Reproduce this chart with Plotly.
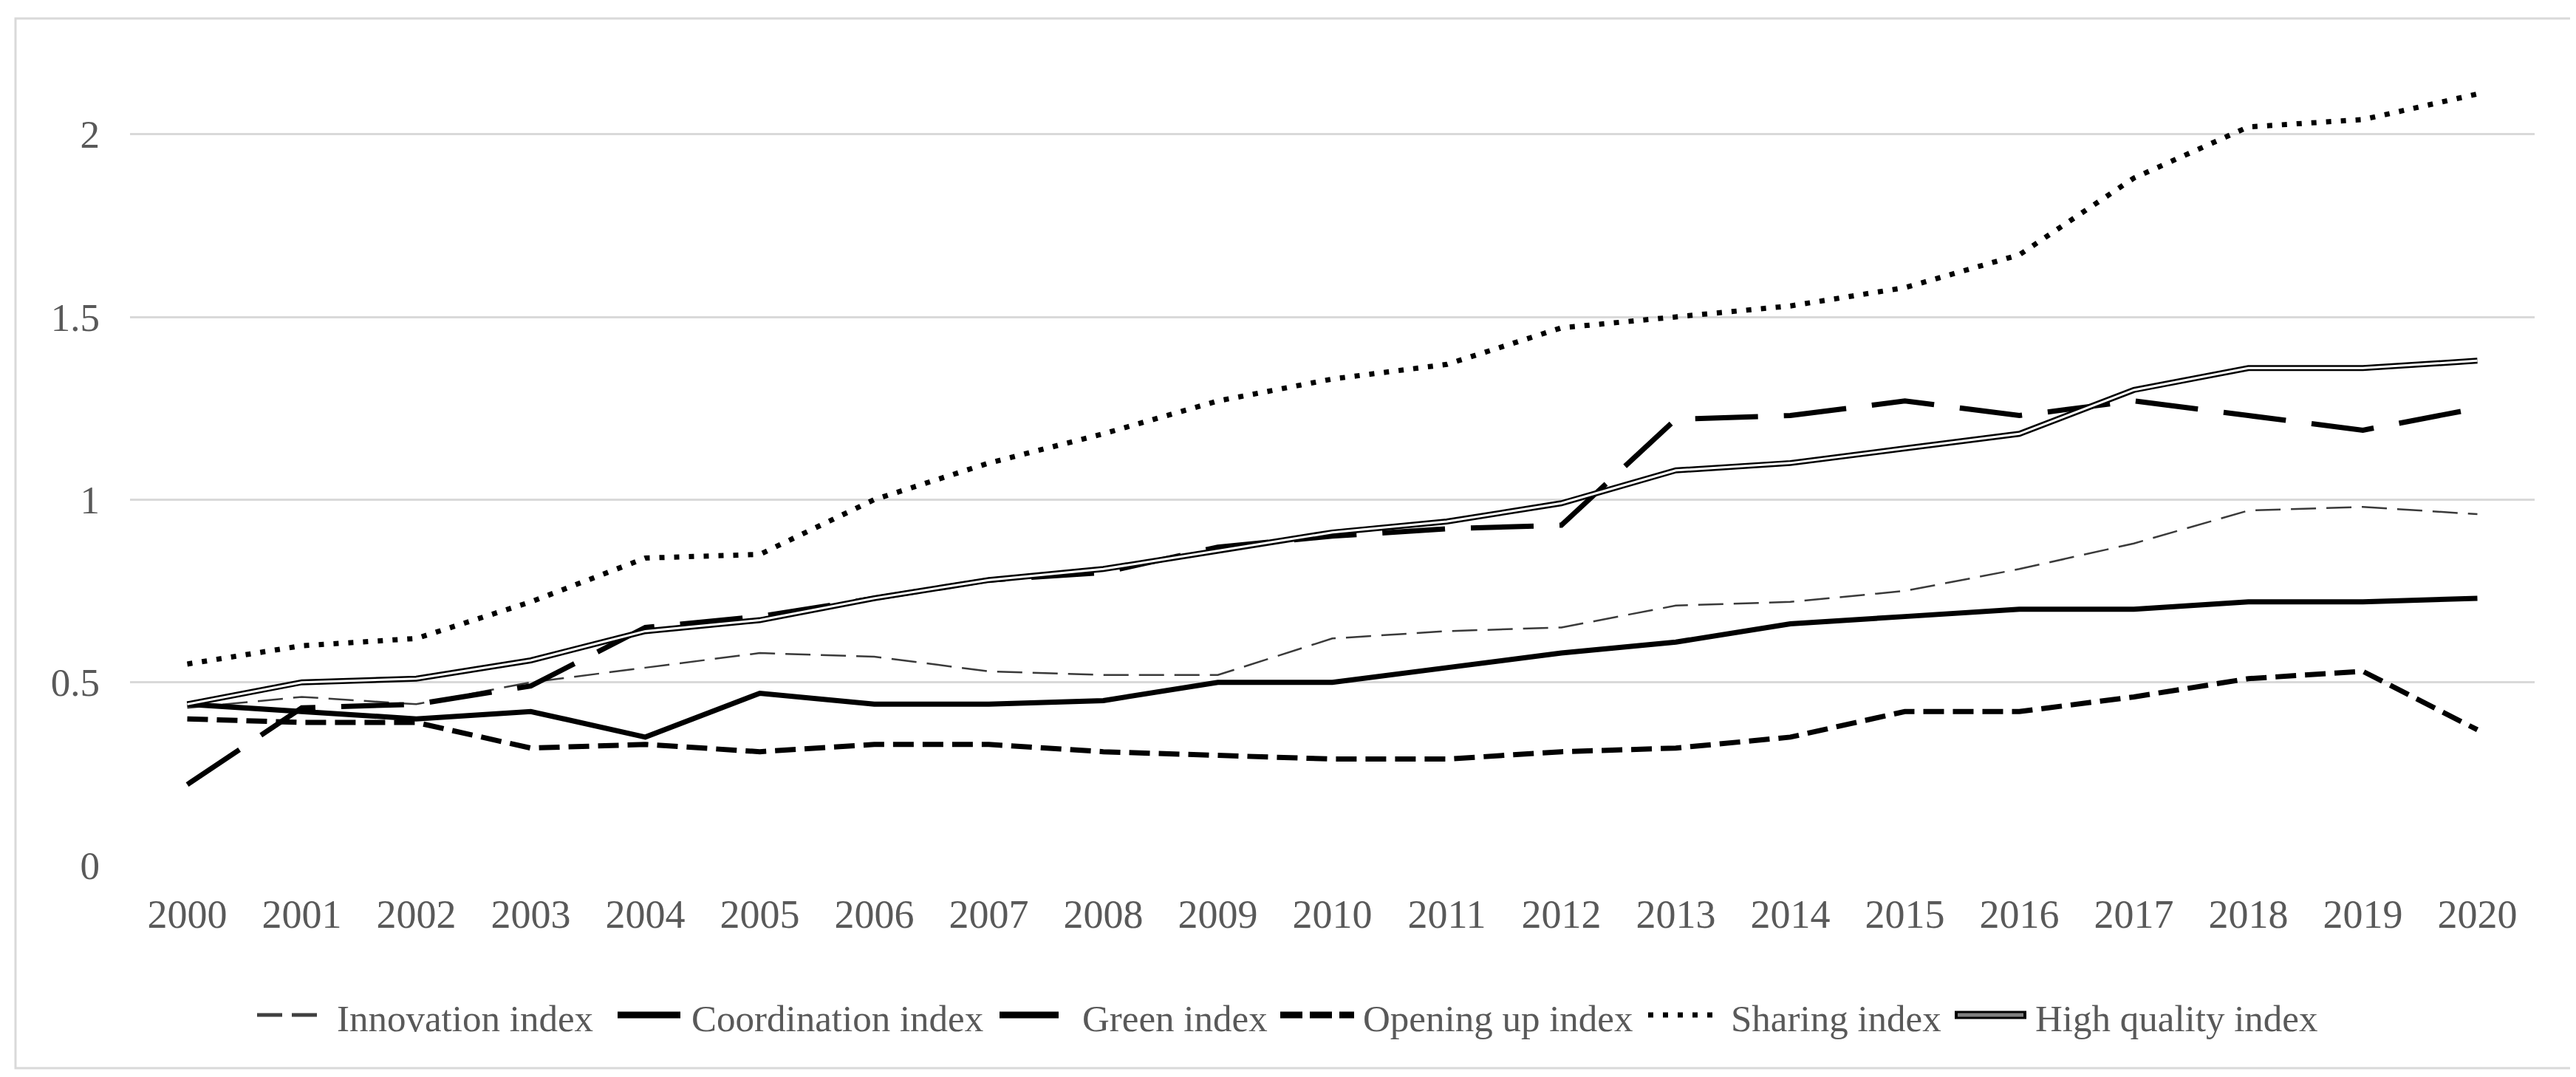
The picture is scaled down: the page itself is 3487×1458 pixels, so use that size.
import plotly.graph_objects as go

years = [str(y) for y in range(2000, 2021)]

innovation = [0.43, 0.46, 0.44, 0.50, 0.54, 0.58, 0.57, 0.53, 0.52, 0.52, 0.62,
              0.64, 0.65, 0.71, 0.72, 0.75, 0.81, 0.88, 0.97, 0.98, 0.96]
coordination = [0.44, 0.42, 0.40, 0.42, 0.35, 0.47, 0.44, 0.44, 0.45, 0.50, 0.50,
                0.54, 0.58, 0.61, 0.66, 0.68, 0.70, 0.70, 0.72, 0.72, 0.73]
green = [0.22, 0.43, 0.44, 0.49, 0.65, 0.68, 0.73, 0.78, 0.80, 0.87, 0.90,
         0.92, 0.93, 1.22, 1.23, 1.27, 1.23, 1.27, 1.23, 1.19, 1.25]
opening = [0.40, 0.39, 0.39, 0.32, 0.33, 0.31, 0.33, 0.33, 0.31, 0.30, 0.29,
           0.29, 0.31, 0.32, 0.35, 0.42, 0.42, 0.46, 0.51, 0.53, 0.37]
sharing = [0.55, 0.60, 0.62, 0.72, 0.84, 0.85, 1.00, 1.10, 1.18, 1.27, 1.33,
           1.37, 1.47, 1.50, 1.53, 1.58, 1.67, 1.88, 2.02, 2.04, 2.11]
high_quality = [0.44, 0.50, 0.51, 0.56, 0.64, 0.67, 0.73, 0.78, 0.81, 0.86, 0.91,
                0.94, 0.99, 1.08, 1.10, 1.14, 1.18, 1.30, 1.36, 1.36, 1.38]

y_ticks = [0, 0.5, 1, 1.5, 2]
y_tick_labels = ["0", "0.5", "1", "1.5", "2"]

W, H = 3487, 1458
ML, MR, MT, MB = 168, 64, 50, 295
PW = W - ML - MR
PH = H - MT - MB

def px_x(p):
    return (p - ML) / PW

def px_y(p):
    return 1 - (p - MT) / PH

FONT = "Liberation Serif"
TXT = "#595959"

fig = go.Figure()

fig.add_trace(go.Scatter(x=years, y=innovation, mode="lines", name="Innovation index",
                         line=dict(color="#3a3a3a", width=2.5, dash="34px,14px")))
fig.add_trace(go.Scatter(x=years, y=coordination, mode="lines", name="Coordination index",
                         line=dict(color="black", width=7)))
fig.add_trace(go.Scatter(x=years, y=green, mode="lines", name="Green index",
                         line=dict(color="black", width=7, dash="85px,35px")))
fig.add_trace(go.Scatter(x=years, y=opening, mode="lines", name="Opening up index",
                         line=dict(color="black", width=7, dash="28px,12px")))
fig.add_trace(go.Scatter(x=years, y=sharing, mode="lines", name="Sharing index",
                         line=dict(color="black", width=7, dash="7px,13px")))
fig.add_trace(go.Scatter(x=years, y=high_quality, mode="lines", name="High quality index",
                         line=dict(color="black", width=8)))
fig.add_trace(go.Scatter(x=years, y=high_quality, mode="lines", name="High quality index inner",
                         line=dict(color="white", width=3), showlegend=False))

shapes = []
annotations = []

# outer border
shapes.append(dict(type="rect", xref="paper", yref="paper",
                   x0=px_x(13), x1=px_x(3474), y0=px_y(17), y1=px_y(1438),
                   line=dict(color="#d9d9d9", width=3), fillcolor="rgba(0,0,0,0)", layer="below"))

# custom legend
LY = 1366
TY = 1371
legend_items = [
    ("Innovation index", 340, 422, 446, dict(color="#404040", width=5, dash="34px,13px"), None),
    ("Coordination index", 828, 913, 926, dict(color="black", width=9), None),
    ("Green index", 1345, 1425, 1455, dict(color="black", width=9), None),
    ("Opening up index", 1725, 1825, 1835, dict(color="black", width=9, dash="30px,10px"), None),
    ("Sharing index", 2223, 2318, 2333, dict(color="black", width=7, dash="7px,13px"), None),
    ("High quality index", 2638, 2735, 2745, dict(color="black", width=11), dict(color="#808080", width=5)),
]
for name, sx0, sx1, tx, ln, inner in legend_items:
    shapes.append(dict(type="line", xref="paper", yref="paper",
                       x0=px_x(sx0), x1=px_x(sx1), y0=px_y(LY), y1=px_y(LY), line=ln))
    if inner is not None:
        shapes.append(dict(type="line", xref="paper", yref="paper",
                           x0=px_x(sx0 + 4), x1=px_x(sx1 - 4), y0=px_y(LY), y1=px_y(LY), line=inner))
    annotations.append(dict(text=name, xref="paper", yref="paper", x=px_x(tx), y=px_y(TY),
                            xanchor="left", yanchor="middle", showarrow=False,
                            font=dict(family=FONT, size=51, color=TXT)))

fig.update_layout(
    width=W, height=H,
    margin=dict(l=ML, r=MR, t=MT, b=MB),
    paper_bgcolor="white", plot_bgcolor="white",
    showlegend=False,
    shapes=shapes, annotations=annotations,
    font=dict(family=FONT, size=53, color=TXT),
)
fig.update_xaxes(type="category", range=[-0.5, 20.5], showgrid=False, showline=False,
                 zeroline=False, ticks="", ticklabelstandoff=30,
                 tickfont=dict(family=FONT, size=54, color=TXT))
fig.update_yaxes(range=[0, 2.25], tickvals=y_ticks, ticktext=y_tick_labels,
                 showgrid=True, gridcolor="#d9d9d9", gridwidth=3, zeroline=False,
                 showline=False, ticks="", ticklabelstandoff=40,
                 tickfont=dict(family=FONT, size=53, color=TXT))

fig.write_html("out.html")
